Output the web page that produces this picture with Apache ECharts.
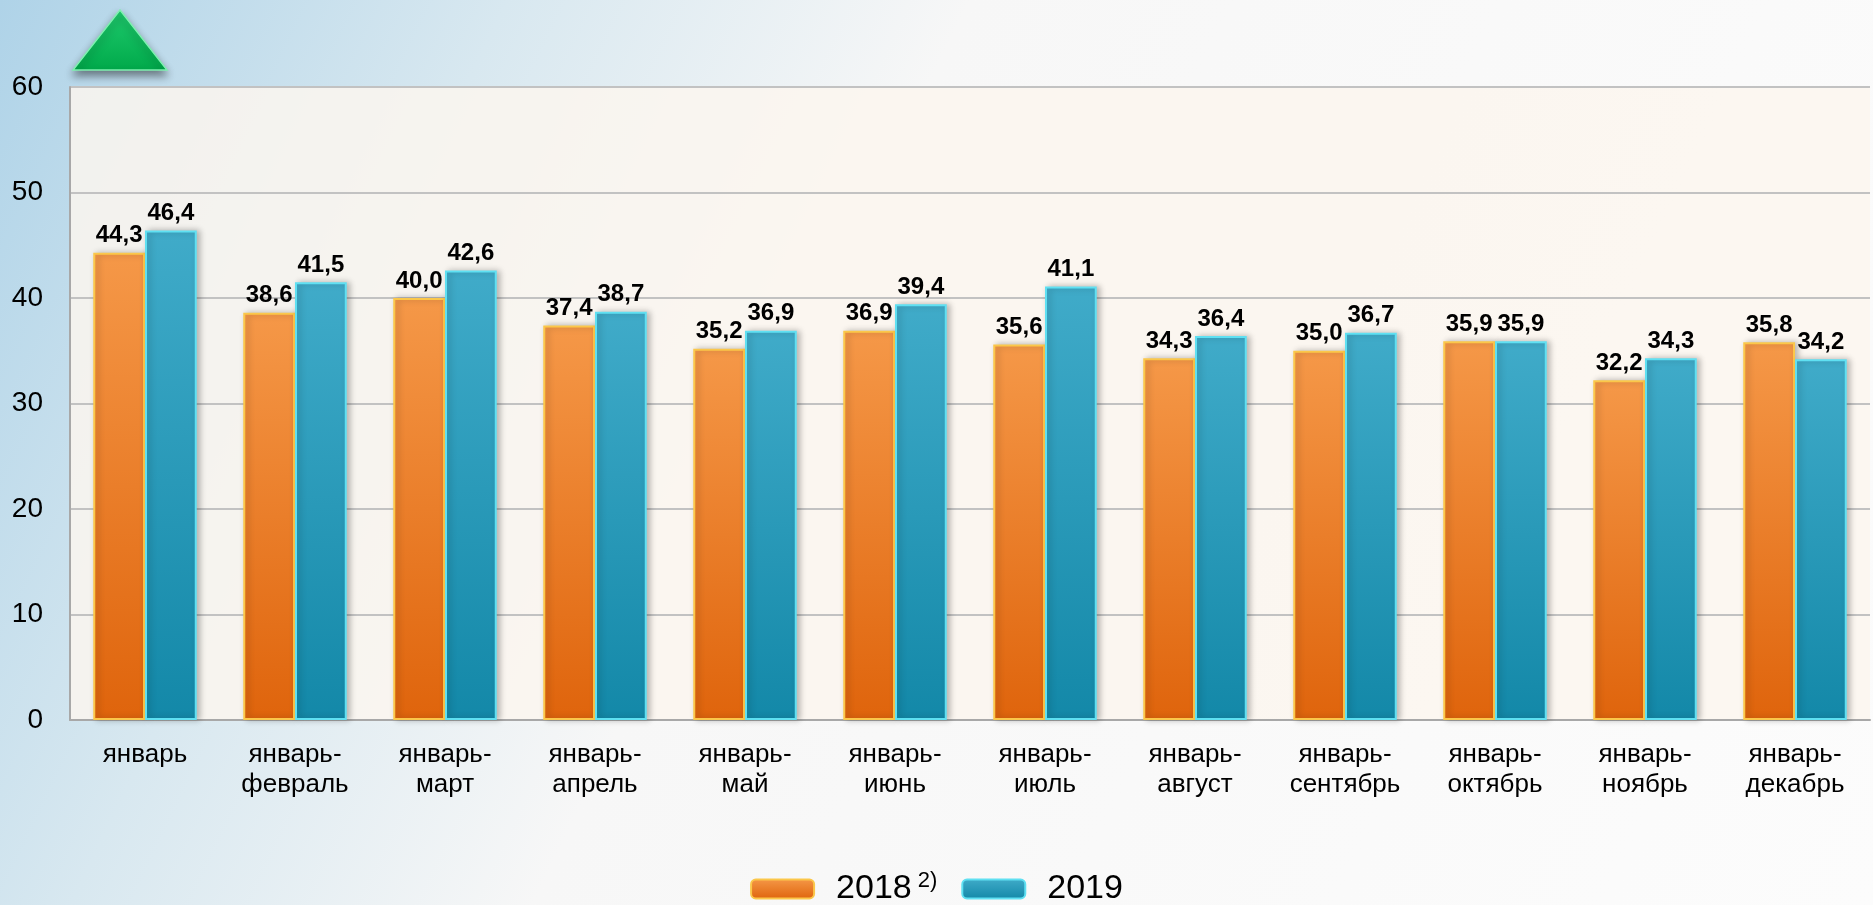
<!DOCTYPE html>
<html>
<head>
<meta charset="utf-8">
<script src="https://cdn.jsdelivr.net/npm/echarts@6/dist/echarts.min.js"></script>
<style>
  html, body { margin: 0; padding: 0; }
  #chart { width: 1873px; height: 905px; }
</style>
</head>
<body>
<div id="chart"></div>
<script>
const categories = [
  "январь", "январь-\nфевраль", "январь-\nмарт", "январь-\nапрель",
  "январь-\nмай", "январь-\nиюнь", "январь-\nиюль", "январь-\nавгуст",
  "январь-\nсентябрь", "январь-\nоктябрь", "январь-\nноябрь", "январь-\nдекабрь"
];
const values2018 = [44.3, 38.6, 40.0, 37.4, 35.2, 36.9, 35.6, 34.3, 35.0, 35.9, 32.2, 35.8];
const values2019 = [46.4, 41.5, 42.6, 38.7, 36.9, 39.4, 41.1, 36.4, 36.7, 35.9, 34.3, 34.2];
const yTicks = [0, 10, 20, 30, 40, 50, 60];

const chart = echarts.init(document.getElementById("chart"));
const fontFamily = "Liberation Sans, Arial, sans-serif";

function grad(top, bottom) {
  return new echarts.graphic.LinearGradient(0, 0, 0, 1, [
    { offset: 0, color: top },
    { offset: 1, color: bottom }
  ]);
}

const labelStyle = {
  show: true,
  position: "top",
  distance: 5,
  color: "#000",
  fontFamily: fontFamily,
  fontWeight: "bold",
  fontSize: 24,
  formatter: p => p.value.toFixed(1).replace(".", ",")
};

const option = {
  backgroundColor: new echarts.graphic.LinearGradient(0, 0, 1, 1, [
    { offset: 0, color: "#AFD3E8" },
    { offset: 0.22, color: "#D8E8F0" },
    { offset: 0.42, color: "#F7F7F7" },
    { offset: 1, color: "#FCFCFC" }
  ]),
  animation: false,
  textStyle: { fontFamily: fontFamily },
  grid: {
    left: 70,
    right: 3,
    top: 87,
    bottom: 185,
    show: true,
    borderWidth: 0,
    backgroundColor: "rgba(251,246,239,0.85)"
  },
  graphic: [
    {
      type: "polygon",
      shape: { points: [[120, 10], [73, 70], [167, 70]] },
      style: {
        fill: grad("#1FCB6E", "#00A94A"),
        stroke: "#7FF0B0",
        lineWidth: 1.5,
        shadowBlur: 8,
        shadowOffsetY: 5,
        shadowColor: "rgba(0,0,0,0.45)"
      }
    }
  ],
  legend: {
    top: 865,
    left: "center",
    itemWidth: 63,
    itemHeight: 19,
    itemGap: 24,
    textStyle: {
      fontSize: 34,
      color: "#000",
      fontFamily: fontFamily,
      padding: [0, 0, 0, 17],
      rich: {
        sup: { fontSize: 22, verticalAlign: "top", padding: [0, 0, 16, 6], color: "#000" }
      }
    },
    formatter: name => name === "2018" ? "2018{sup|2)}" : name,
    data: ["2018", "2019"]
  },
  xAxis: {
    type: "category",
    data: categories,
    axisLine: { lineStyle: { color: "#A8A8A8", width: 2 } },
    axisTick: { show: false },
    axisLabel: {
      color: "#000",
      fontSize: 26,
      lineHeight: 30,
      margin: 20,
      interval: 0,
      fontFamily: fontFamily
    }
  },
  yAxis: {
    type: "value",
    min: 0,
    max: 60,
    interval: 10,
    axisLine: { show: true, lineStyle: { color: "#A8A8A8", width: 2 } },
    axisTick: { show: false },
    splitLine: { lineStyle: { color: "#C2C2C2", width: 2 } },
    axisLabel: {
      color: "#000",
      fontSize: 28,
      margin: 27,
      fontFamily: fontFamily,
      formatter: v => yTicks.includes(v) ? String(v) : ""
    }
  },
  series: [
    {
      name: "2018",
      type: "bar",
      data: values2018,
      barGap: "0%",
      barCategoryGap: "31%",
      itemStyle: {
        color: grad("#F59848", "#DF640C"),
        borderColor: "#FBC74A",
        borderWidth: 2,
        shadowBlur: 6,
        shadowOffsetX: 3,
        shadowColor: "rgba(0,0,0,0.25)"
      },
      label: labelStyle
    },
    {
      name: "2019",
      type: "bar",
      data: values2019,
      itemStyle: {
        color: grad("#40ABC9", "#1388A8"),
        borderColor: "#5FE0F2",
        borderWidth: 2,
        shadowBlur: 6,
        shadowOffsetX: 3,
        shadowColor: "rgba(0,0,0,0.25)"
      },
      label: labelStyle
    }
  ]
};

chart.setOption(option);
</script>
</body>
</html>
